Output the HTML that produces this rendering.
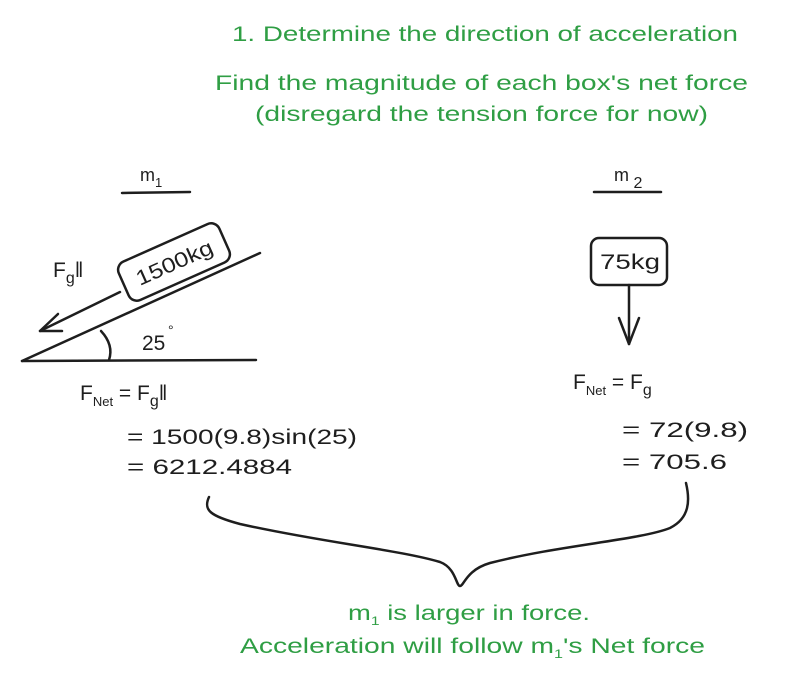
<!DOCTYPE html>
<html><head><style>html,body{margin:0;padding:0;background:#fff}svg{display:block}</style></head>
<body>
<svg width="803" height="687" viewBox="0 0 803 687" xmlns="http://www.w3.org/2000/svg" font-family="Liberation Sans, sans-serif">
<rect width="803" height="687" fill="#fff"/>
<g fill="#2f9e44" font-size="21">
<text x="232" y="41" textLength="506" lengthAdjust="spacingAndGlyphs">1. Determine the direction of acceleration</text>
<text x="215" y="90" textLength="533" lengthAdjust="spacingAndGlyphs">Find the magnitude of each box's net force</text>
<text x="255" y="121" textLength="453" lengthAdjust="spacingAndGlyphs">(disregard the tension force for now)</text>
<text x="348" y="620" textLength="242" lengthAdjust="spacingAndGlyphs">m<tspan font-size="12" dy="5">1</tspan><tspan dy="-5"> is larger in force.</tspan></text>
<text x="240" y="653" textLength="465" lengthAdjust="spacingAndGlyphs">Acceleration will follow m<tspan font-size="12" dy="5">1</tspan><tspan dy="-5">'s Net force</tspan></text>
</g>
<g fill="none" stroke="#1e1e1e" stroke-width="2.5" stroke-linecap="round" stroke-linejoin="round">
<line x1="122" y1="193" x2="190" y2="192"/>
<line x1="594" y1="192" x2="661" y2="192"/>
<line x1="22" y1="361" x2="260" y2="253"/>
<line x1="22" y1="361" x2="256" y2="360"/>
<path d="M101 331 Q114 345 109 360"/>
<line x1="120" y1="292" x2="40" y2="331"/>
<path d="M58 314 L40 331 L62 331"/>
<g transform="translate(174,262) rotate(-24)">
<rect x="-55" y="-21" width="110" height="42" rx="9"/>
</g>
<rect x="591" y="238" width="76" height="47" rx="8"/>
<line x1="629" y1="285" x2="629" y2="344"/>
<path d="M619 318 L629 344 L639 318"/>
<path d="M209 497 C203 510 210 516 240 524 C320 542 400 550 440 562 C456 568 456 586 460 586 C464 586 466 570 490 563 C560 545 640 540 670 528 C690 518 690 500 686 483"/>
</g>
<g fill="#1e1e1e" font-size="21">
<text x="140" y="181" font-size="18">m<tspan font-size="13" dy="6">1</tspan></text>
<text x="614" y="181" font-size="18">m<tspan font-size="16" dy="7"> 2</tspan></text>
<text x="174" y="270" text-anchor="middle" transform="rotate(-24 174 262)" textLength="82" lengthAdjust="spacingAndGlyphs">1500kg</text>
<text x="600" y="269" textLength="60" lengthAdjust="spacingAndGlyphs">75kg</text>
<text x="53" y="277">F<tspan font-size="16" dy="6">g</tspan><tspan dy="-6">‖</tspan></text>
<text x="142" y="350">25</text><text x="168" y="335" font-size="14">°</text>
<text x="80" y="400">F<tspan font-size="13" dy="6">Net</tspan><tspan dy="-6"> = F</tspan><tspan font-size="16" dy="6">g</tspan><tspan dy="-6">‖</tspan></text>
<text x="127" y="444" textLength="230" lengthAdjust="spacingAndGlyphs">= 1500(9.8)sin(25)</text>
<text x="127" y="474" textLength="165" lengthAdjust="spacingAndGlyphs">= 6212.4884</text>
<text x="573" y="389">F<tspan font-size="13" dy="6">Net</tspan><tspan dy="-6"> = F</tspan><tspan font-size="16" dy="6">g</tspan></text>
<text x="622" y="437" textLength="126" lengthAdjust="spacingAndGlyphs">= 72(9.8)</text>
<text x="622" y="469" textLength="105" lengthAdjust="spacingAndGlyphs">= 705.6</text>
</g>
</svg>
</body></html>
